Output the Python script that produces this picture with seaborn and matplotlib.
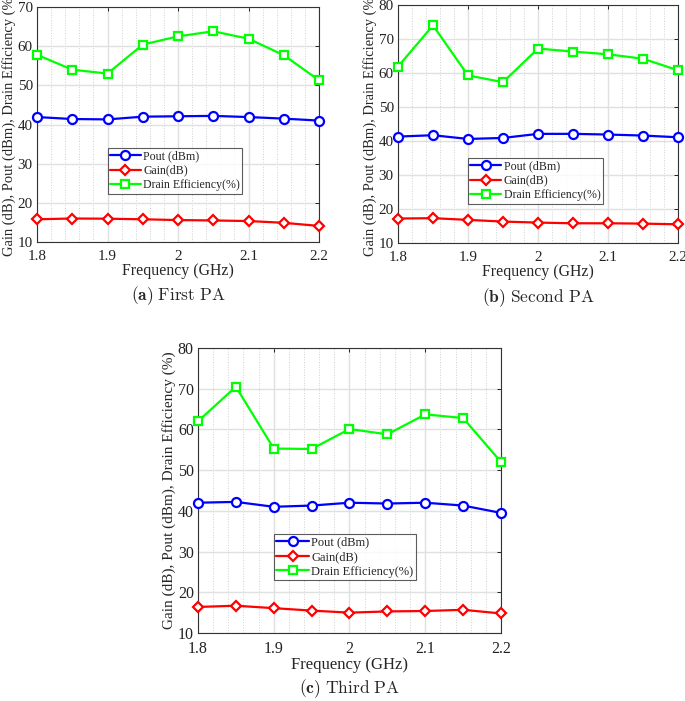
import numpy as np
import pandas as pd
import matplotlib
matplotlib.use('Agg')
import matplotlib.pyplot as plt
from matplotlib.ticker import MultipleLocator
import seaborn as sns

sns.set_style('whitegrid')
plt.rcParams['font.family'] = ['Liberation Serif', 'DejaVu Serif']
plt.rcParams['mathtext.fontset'] = 'cm'

# frequency points (GHz)
freq = [1.8, 1.85, 1.9, 1.95, 2.0, 2.05, 2.1, 2.15, 2.2]
xtick_pos = [1.8, 1.9, 2.0, 2.1, 2.2]
xtick_lab = ['1.8', '1.9', '2', '2.1', '2.2']

# first PA
pout_a = [41.9, 41.4, 41.3, 42.0, 42.1, 42.2, 41.9, 41.5, 41.0]
gain_a = [15.8, 16.0, 15.95, 15.8, 15.6, 15.5, 15.35, 14.9, 14.1]
de_a = [57.8, 54.0, 53.0, 60.4, 62.5, 63.8, 61.9, 57.7, 51.3]

# second PA
pout_b = [41.3, 41.7, 40.6, 40.9, 42.1, 42.1, 41.9, 41.6, 41.1]
gain_b = [17.2, 17.3, 16.8, 16.3, 16.0, 15.8, 15.8, 15.7, 15.5]
de_b = [61.9, 74.0, 59.3, 57.3, 67.2, 66.3, 65.5, 64.2, 60.8]

# third PA
pout_c = [42.0, 42.2, 41.0, 41.3, 42.0, 41.8, 42.0, 41.3, 39.5]
gain_c = [16.4, 16.7, 16.1, 15.5, 15.0, 15.3, 15.4, 15.7, 14.8]
de_c = [62.0, 70.5, 55.3, 55.2, 60.1, 58.8, 63.7, 62.8, 52.0]

labels = ['Pout (dBm)', 'Gain(dB)', 'Drain Efficiency(%)']
colors = ['#0000ff', '#ff0000', '#00ff00']
markers = ['o', 'D', 's']
msizes = [6.5, 5.5, 6]


def draw(ax, pout, gain, de, ymin, ymax, leg_top, caption, cap_y, fs=1.0):
    df = pd.DataFrame({'freq': freq, labels[0]: pout, labels[1]: gain, labels[2]: de})
    for lab, c, m, ms in zip(labels, colors, markers, msizes):
        sns.lineplot(data=df, x='freq', y=lab, ax=ax, color=c, marker=m, markersize=ms,
                     markerfacecolor='white', markeredgecolor=c, markeredgewidth=1.6,
                     linewidth=1.6, label=lab, clip_on=False, zorder=3)
    ax.set_xlim(1.8, 2.2)
    ax.set_ylim(ymin, ymax)
    ax.set_xticks(xtick_pos)
    ax.set_xticklabels(xtick_lab)
    ax.xaxis.set_minor_locator(MultipleLocator(0.02))
    ax.yaxis.set_major_locator(MultipleLocator(10))
    ax.grid(which='major', color='#e0e0e0', linewidth=1.0, linestyle='-')
    ax.grid(which='minor', axis='x', color='#d0d0d0', linewidth=0.7, linestyle=':')
    ax.tick_params(direction='in', length=3, width=0.7, top=True, right=True,
                   labelsize=11.5 * fs, colors='#222222', pad=3)
    ax.tick_params(axis='x', pad=6)
    ax.tick_params(which='minor', length=0)
    for s in ax.spines.values():
        s.set_color('#333333')
        s.set_linewidth(0.8)
    ax.set_xlabel('Frequency (GHz)', fontsize=12 * fs, labelpad=0)
    ax.set_ylabel('Gain (dB), Pout (dBm), Drain Efficiency (%)', fontsize=11 * fs, labelpad=1)
    leg = ax.legend(loc='upper left', bbox_to_anchor=(0.25, leg_top), fontsize=9 * fs,
                    frameon=True, fancybox=False, borderpad=0.2, labelspacing=0.2,
                    handlelength=2.6, handletextpad=0.2, borderaxespad=0)
    leg.get_frame().set_edgecolor('#333333')
    leg.get_frame().set_linewidth(0.8)
    ax.text(0.5, cap_y, caption, transform=ax.transAxes, ha='center', va='top',
            fontsize=12.5)


fig = plt.figure(figsize=(6.85, 7.01), dpi=100)
W, H = 685, 701
ax_a = fig.add_axes([37 / W, 1 - 242 / H, 282 / W, 235 / H])
ax_b = fig.add_axes([398 / W, 1 - 243 / H, 280 / W, 238 / H])
ax_c = fig.add_axes([198 / W, 1 - 633 / H, 303 / W, 285 / H])

draw(ax_a, pout_a, gain_a, de_a, 10, 70, 0.40, r'$\mathbf{(a)}\ \mathrm{First\ PA}$', -0.18, 0.95)
draw(ax_b, pout_b, gain_b, de_b, 10, 80, 0.357, r'$\mathbf{(b)}\ \mathrm{Second\ PA}$', -0.18, 0.95)
draw(ax_c, pout_c, gain_c, de_c, 10, 80, 0.347, r'$\mathbf{(c)}\ \mathrm{Third\ PA}$', -0.155)

fig.savefig('out.png', dpi=100)
